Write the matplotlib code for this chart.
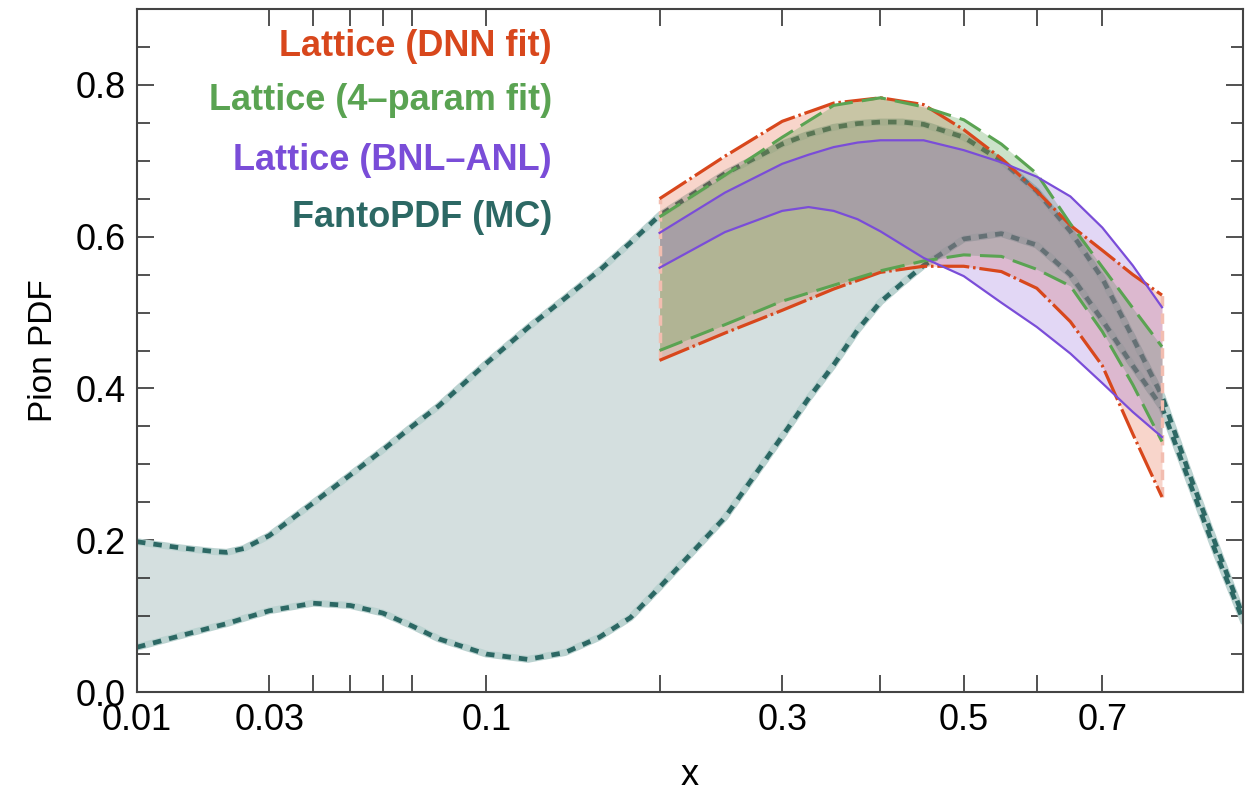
import numpy as np
import matplotlib
matplotlib.use('Agg')
import matplotlib.pyplot as plt

plt.rcParams['font.family'] = ['Liberation Sans', 'DejaVu Sans']

# FantoPDF (MC) band
x_fanto = [0.01, 0.015, 0.02, 0.022, 0.025, 0.03, 0.04, 0.05, 0.06, 0.07, 0.08,
           0.1, 0.12, 0.14, 0.16, 0.18, 0.2, 0.25, 0.3, 0.325, 0.35, 0.375, 0.4, 0.425,
           0.45, 0.5, 0.55, 0.6, 0.65, 0.7, 0.75, 0.8, 0.85, 0.9, 0.95]
fanto_hi = [0.198, 0.190, 0.185, 0.184, 0.189, 0.206, 0.249, 0.286, 0.319, 0.350, 0.377,
            0.433, 0.480, 0.519, 0.555, 0.592, 0.628, 0.683, 0.722, 0.735, 0.744, 0.749, 0.751, 0.751,
            0.748, 0.731, 0.700, 0.660, 0.607, 0.545, 0.467, 0.390, 0.285, 0.190, 0.100]
fanto_lo = [0.059, 0.074, 0.086, 0.090, 0.097, 0.107, 0.117, 0.114, 0.104, 0.087, 0.070,
            0.050, 0.043, 0.052, 0.072, 0.098, 0.138, 0.230, 0.337, 0.387, 0.431, 0.477, 0.514, 0.539,
            0.562, 0.597, 0.604, 0.589, 0.550, 0.490, 0.430, 0.375, 0.275, 0.180, 0.095]

# lattice bands
x_lat = [0.2, 0.25, 0.3, 0.35, 0.4, 0.45, 0.5, 0.55, 0.6, 0.65, 0.7, 0.75, 0.8]
dnn_hi = [0.650, 0.706, 0.752, 0.776, 0.783, 0.774, 0.741, 0.703, 0.660, 0.615, 0.582, 0.550, 0.523]
dnn_lo = [0.437, 0.473, 0.503, 0.531, 0.553, 0.561, 0.561, 0.554, 0.532, 0.488, 0.430, 0.340, 0.257]
four_hi = [0.626, 0.681, 0.731, 0.773, 0.783, 0.771, 0.754, 0.722, 0.683, 0.617, 0.560, 0.506, 0.455]
four_lo = [0.450, 0.484, 0.515, 0.536, 0.555, 0.568, 0.576, 0.574, 0.557, 0.535, 0.475, 0.405, 0.330]

x_bnl = [0.2, 0.25, 0.3, 0.325, 0.35, 0.375, 0.4, 0.45, 0.5, 0.55, 0.6, 0.65, 0.7, 0.75, 0.8]
bnl_hi = [0.605, 0.658, 0.696, 0.708, 0.718, 0.724, 0.727, 0.727, 0.714, 0.698, 0.679, 0.653,
          0.612, 0.562, 0.507]
bnl_lo = [0.559, 0.606, 0.634, 0.639, 0.634, 0.623, 0.607, 0.572, 0.548, 0.513, 0.481, 0.446,
          0.407, 0.369, 0.336]

x_ticks = [0.01, 0.03, 0.04, 0.05, 0.06, 0.07, 0.1, 0.2, 0.3, 0.4, 0.5, 0.6, 0.7]
x_labels = ['0.01', '0.03', '', '', '', '', '0.1', '', '0.3', '', '0.5', '', '0.7']
y_ticks = [0.0, 0.2, 0.4, 0.6, 0.8]

labels = ['Lattice (DNN fit)', 'Lattice (4\u2013param fit)', 'Lattice (BNL\u2013ANL)', 'FantoPDF (MC)']
red = '#D8471C'
green = '#5AA352'
purple = '#7A4DD8'
teal = '#2C6864'

fig = plt.figure(figsize=(12.47, 7.91), dpi=100)
ax = fig.add_axes([137 / 1247, 1 - 692 / 791, (1243 - 137) / 1247, (692 - 9) / 791])

ax.set_xscale('function', functions=(lambda v: np.power(np.clip(v, 1e-9, None), 0.35),
                                     lambda v: np.power(np.clip(v, 1e-9, None), 1 / 0.35)))
ax.set_xlim(0.01, 0.95)
ax.set_ylim(0, 0.9)

# Fanto band
ax.fill_between(x_fanto, fanto_lo, fanto_hi, color='#D4DFDF', lw=0, zorder=1)
for yy in (fanto_hi, fanto_lo):
    ax.plot(x_fanto, yy, color='#BCD3D1', lw=5.0, zorder=2)
    ax.plot(x_fanto, yy, color=teal, lw=3.4, dashes=(1.8, 1.7), zorder=2.1)

# lattice fills
ax.fill_between(x_lat, dnn_lo, dnn_hi, color=(0.90, 0.35, 0.20), alpha=0.25, lw=0, zorder=3)
ax.fill_between(x_lat, four_lo, four_hi, color=(0.35, 0.63, 0.31), alpha=0.30, lw=0, zorder=3.1)
ax.fill_between(x_bnl, bnl_lo, bnl_hi, color=(0.55, 0.39, 0.86), alpha=0.25, lw=0, zorder=3.2)

# band edges at the ends
for xe, lo, hi in ((x_lat[0], dnn_lo[0], dnn_hi[0]), (x_lat[-1], dnn_lo[-1], dnn_hi[-1])):
    ax.plot([xe, xe], [lo, hi], color='#F2BDB0', lw=2.5, dashes=(3, 2), zorder=3.5)

for yy in (dnn_hi, dnn_lo):
    ax.plot(x_lat, yy, color=red, lw=2.3, dashes=(10, 1.2, 0.8, 1.2), zorder=4)
for yy in (four_hi, four_lo):
    ax.plot(x_lat, yy, color=green, lw=2.2, dashes=(8, 3), zorder=4.1)
for yy in (bnl_hi, bnl_lo):
    ax.plot(x_bnl, yy, color=purple, lw=1.6, zorder=4.2)

# axes styling
ax.set_xticks(x_ticks)
ax.set_xticklabels(x_labels)
ax.xaxis.set_minor_locator(matplotlib.ticker.NullLocator())
ax.set_yticks(y_ticks)
ax.set_yticklabels(['0.0', '0.2', '0.4', '0.6', '0.8'])
ax.yaxis.set_minor_locator(matplotlib.ticker.MultipleLocator(0.05))
ax.tick_params(which='both', direction='in', top=True, right=True, labelsize=26,
               color='#333333', width=1.2, pad=8)
ax.tick_params(which='major', length=12)
ax.tick_params(which='minor', length=9)
for s in ax.spines.values():
    s.set_color('#444444')
    s.set_linewidth(1.5)

ax.set_xlabel('x', fontsize=26, labelpad=14)
ax.set_ylabel('Pion PDF', fontsize=24, labelpad=12)

# legend texts
for lab, col, yp in zip(labels, [red, green, purple, teal], [47, 100, 160, 218]):
    fig.text(552 / 1247, 1 - yp / 791, lab, color=col, fontsize=26, fontweight='bold',
             ha='right', va='center')

fig.savefig('out.png', dpi=100)
